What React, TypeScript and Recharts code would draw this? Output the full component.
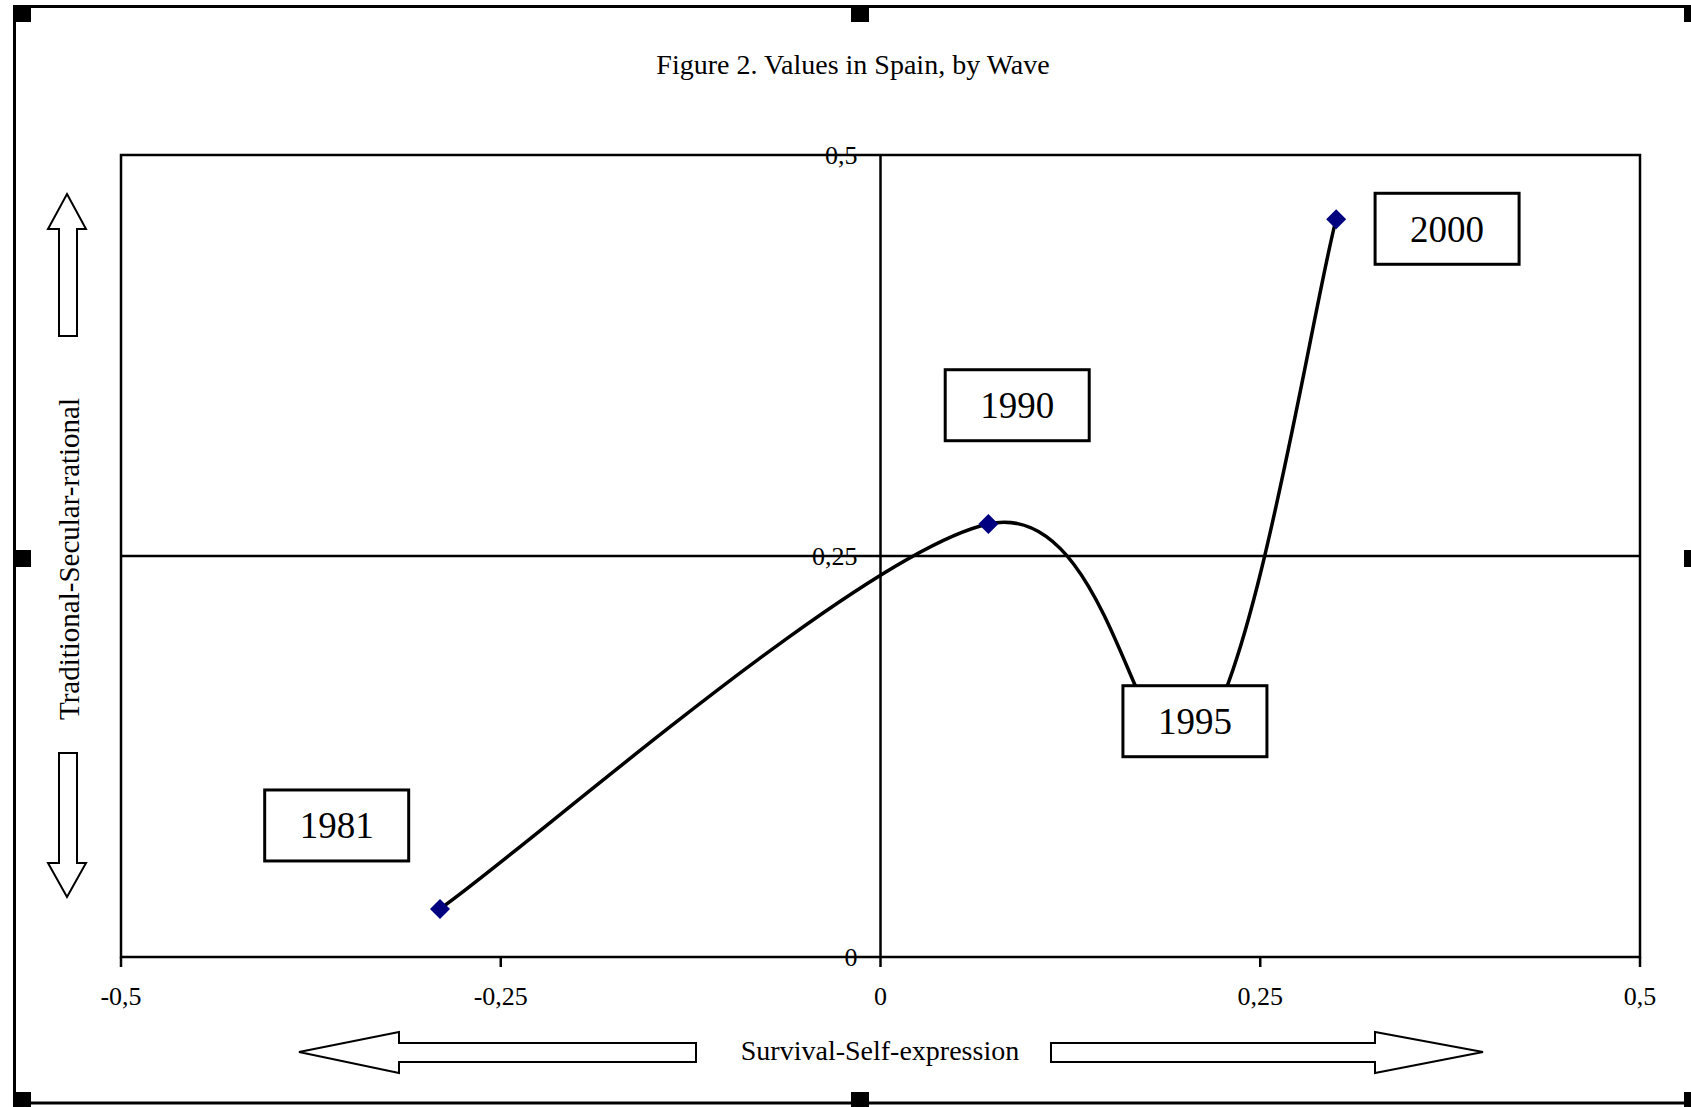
import React from "react";
import {
  ScatterChart,
  Scatter,
  XAxis,
  YAxis,
  ReferenceLine,
  ReferenceArea,
  ReferenceDot,
} from "recharts";

const W = 1691;
const H = 1107;
const FONT = '"Liberation Serif", "Times New Roman", serif';

// data
const waves = ["1981", "1990", "1995", "2000"];
const survivalSelfExpression = [-0.29, 0.071, 0.207, 0.3];
const traditionalSecular = [0.03, 0.27, 0.132, 0.46];
const xTicks = [-0.5, -0.25, 0, 0.25, 0.5];
const yTicks = [0, 0.25, 0.5];
// where the wave text boxes sit (data units)
const boxX = [-0.358, 0.09, 0.207, 0.373];
const boxY = [0.082, 0.344, 0.147, 0.454];

const points = waves.map((w, i) => ({ wave: w, x: survivalSelfExpression[i], y: traditionalSecular[i] }));
const boxes = waves.map((w, i) => ({ wave: w, x: boxX[i], y: boxY[i] }));

const fmt = (v: number) => String(v).replace(".", ",");

// Excel-like smoothed line: bezier with tangents from neighbours, 1/6 tension, clamped
const excelSmooth = (ctx: any) => {
  let pts: number[][] = [];
  const dist = (a: number[], b: number[]) => Math.hypot(b[0] - a[0], b[1] - a[1]);
  return {
    areaStart() {},
    areaEnd() {},
    lineStart() {
      pts = [];
    },
    point(x: number, y: number) {
      pts.push([+x, +y]);
    },
    lineEnd() {
      const n = pts.length;
      if (!n) return;
      ctx.moveTo(pts[0][0], pts[0][1]);
      for (let i = 0; i < n - 1; i++) {
        const p0 = pts[Math.max(i - 1, 0)];
        const p1 = pts[i];
        const p2 = pts[i + 1];
        const p3 = pts[Math.min(i + 2, n - 1)];
        const d12 = dist(p1, p2);
        const d02 = dist(p0, p2);
        const d13 = dist(p1, p3);
        let f1 = 1 / 6;
        let f2 = 1 / 6;
        if (d02 * f1 > d12 / 2) f1 = d12 / 2 / d02;
        if (d13 * f2 > d12 / 2) f2 = d12 / 2 / d13;
        ctx.bezierCurveTo(
          p1[0] + (p2[0] - p0[0]) * f1,
          p1[1] + (p2[1] - p0[1]) * f1,
          p2[0] - (p3[0] - p1[0]) * f2,
          p2[1] - (p3[1] - p1[1]) * f2,
          p2[0],
          p2[1]
        );
      }
    },
  };
};

const Diamond = (p: any) => {
  const r = 10;
  return (
    <path
      d={`M${p.cx},${p.cy - r}L${p.cx + r},${p.cy}L${p.cx},${p.cy + r}L${p.cx - r},${p.cy}Z`}
      fill="#000080"
    />
  );
};

const WaveBox = (p: any) => {
  const w = 144;
  const h = 71;
  return (
    <g>
      <rect x={p.cx - w / 2} y={p.cy - h / 2} width={w} height={h} fill="#fff" stroke="#000" strokeWidth={3} />
      <text x={p.cx} y={p.cy + 13} textAnchor="middle" fontFamily={FONT} fontSize={37} fill="#000">
        {p.payload.wave}
      </text>
    </g>
  );
};

const handles = [
  [13, 5], [851, 5], [1684, 5],
  [13, 550], [1684, 550],
  [13, 1092], [851, 1092], [1684, 1092],
];

const Frame = () => (
  <svg width={W} height={H} style={{ position: "absolute", left: 0, top: 0, pointerEvents: "none" }}>
    <rect x={14.5} y={6.5} width={1682} height={1096.5} fill="none" stroke="#000" strokeWidth={3} />
    {handles.map(([x, y], i) => (
      <rect key={i} x={x} y={y} width={18} height={17} fill="#000" />
    ))}
    <text x={853} y={74} textAnchor="middle" fontFamily={FONT} fontSize={28} fill="#000">
      Figure 2. Values in Spain, by Wave
    </text>
    <text x={880} y={1060} textAnchor="middle" fontFamily={FONT} fontSize={28} fill="#000">
      Survival-Self-expression
    </text>
    <text
      x={0}
      y={0}
      transform="translate(79,559) rotate(-90)"
      textAnchor="middle"
      fontFamily={FONT}
      fontSize={29}
      fill="#000"
    >
      Traditional-Secular-rational
    </text>
    {/* up arrow */}
    <polygon
      points="67,194 86,229 77,229 77,336 59,336 59,229 48,229"
      fill="#fff"
      stroke="#000"
      strokeWidth={2}
    />
    {/* down arrow */}
    <polygon
      points="59,753 77,753 77,863 86,863 67,897 48,863 59,863"
      fill="#fff"
      stroke="#000"
      strokeWidth={2}
    />
    {/* left arrow */}
    <polygon
      points="299,1052 399,1032 399,1043 696,1043 696,1062 399,1062 399,1073"
      fill="#fff"
      stroke="#000"
      strokeWidth={2}
    />
    {/* right arrow */}
    <polygon
      points="1051,1043 1375,1043 1375,1032 1483,1052 1375,1073 1375,1062 1051,1062"
      fill="#fff"
      stroke="#000"
      strokeWidth={2}
    />
  </svg>
);

export default function App() {
  return (
    <div style={{ position: "absolute", left: 0, top: 0, width: W, height: H, background: "#fff", overflow: "hidden" }}>
      <ScatterChart width={W} height={H} margin={{ top: 155, right: 51, bottom: 110, left: 121 }}>
        <XAxis
          type="number"
          dataKey="x"
          domain={[-0.5, 0.5]}
          ticks={xTicks}
          tickFormatter={fmt}
          allowDataOverflow
          axisLine={false}
          tickLine={{ stroke: "#000", strokeWidth: 2.5 }}
          tickSize={10}
          tickMargin={20}
          height={40}
          tick={{ fill: "#000", fontFamily: FONT, fontSize: 26 }}
        />
        <YAxis type="number" dataKey="y" domain={[0, 0.5]} ticks={yTicks} allowDataOverflow hide />
        <ReferenceArea x1={-0.5} x2={0.5} y1={0} y2={0.5} fill="none" fillOpacity={0} stroke="#000" strokeWidth={2.5} />
        <ReferenceLine x={0} stroke="#000" strokeWidth={2.5} />
        <ReferenceLine y={0.25} stroke="#000" strokeWidth={2.5} />
        {yTicks.map((v) => (
          <ReferenceDot
            key={v}
            x={0}
            y={v}
            r={1}
            fill="none"
            stroke="none"
            label={{ value: fmt(v), position: "left", offset: 22, fill: "#000", fontFamily: FONT, fontSize: 26 }}
          />
        ))}
        <Scatter
          data={points}
          line={{ stroke: "#000", strokeWidth: 3.5 }}
          lineJointType={excelSmooth as any}
          shape={Diamond}
          isAnimationActive={false}
        />
        <Scatter data={boxes} shape={WaveBox} isAnimationActive={false} />
      </ScatterChart>
      <Frame />
    </div>
  );
}
